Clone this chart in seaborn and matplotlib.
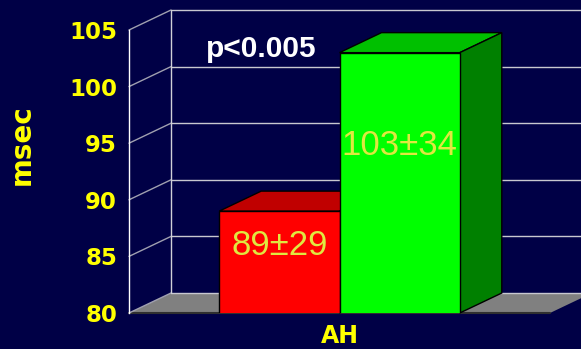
import matplotlib
matplotlib.use("Agg")
import matplotlib.pyplot as plt
from matplotlib.patches import Polygon
import pandas as pd
import seaborn as sns

# data
groups = ["AH", "AH"]
series = ["before", "after"]
values = [89, 103]
bar_labels = ["89\u00b129", "103\u00b134"]
yticks = [80, 85, 90, 95, 100, 105]
p_text = "p<0.005"

navy = "#000046"
front_cols = ["#ff0000", "#00ff00"]
top_cols = ["#c00000", "#00c000"]
side_cols = ["#900000", "#008000"]

df = pd.DataFrame({"group": groups, "series": series, "value": values})

sns.set_style("dark")
plt.rcParams["font.family"] = ["Liberation Sans", "DejaVu Sans"]

fig = plt.figure(figsize=(5.81, 3.49), dpi=100, facecolor=navy)
ax = fig.add_axes([129 / 581, 36 / 349, 421 / 581, 283 / 349])
ax.set_facecolor(navy)

sns.barplot(data=df, x="group", y="value", hue="series", palette=front_cols,
            saturation=1, errorbar=None, edgecolor="black", linewidth=1,
            legend=False, ax=ax)

ax.set_xlim(-0.7, 0.7)
ax.set_ylim(80, 105)
ax.set_yticks(yticks)
ax.grid(False)

# depth offset of the fake 3D box, in data units (42 px right, 20 px up)
dx = 42 * 1.4 / 421
dy = 20 * 25 / 283
x0, x1 = -0.7, 0.7
y0, y1 = 80, 105

# back wall grid lines and left edges
for v in yticks:
    ax.plot([x0 + dx, x1 + dx + 0.2], [v + dy, v + dy], color="#c8c8d0",
            lw=1, clip_on=False, zorder=0.7)
    ax.plot([x0, x0 + dx], [v, v + dy], color="#a0a0b0", lw=1,
            clip_on=False, zorder=0.7)
ax.plot([x0 + dx, x0 + dx], [y0 + dy, y1 + dy], color="#d0d0d8", lw=1,
        clip_on=False, zorder=0.7)

# floor
ax.add_patch(Polygon([(x0, y0), (x1, y0), (x1 + dx, y0 + dy), (x0 + dx, y0 + dy)],
                     closed=True, facecolor="#808080", edgecolor="none",
                     clip_on=False, zorder=0.6))
ax.plot([x0, x1], [y0, y0], color="#303030", lw=1.5, clip_on=False, zorder=0.65)

# 3D faces for the bars
for i, p in enumerate(ax.patches[:len(values)]):
    bx, bw, bh = p.get_x(), p.get_width(), p.get_height()
    z = 2 + 2 * i
    top = Polygon([(bx, bh), (bx + bw, bh), (bx + bw + dx, bh + dy), (bx + dx, bh + dy)],
                  closed=True, facecolor=top_cols[i], edgecolor="black", lw=1,
                  clip_on=False, zorder=z)
    side = Polygon([(bx + bw, y0), (bx + bw + dx, y0 + dy), (bx + bw + dx, bh + dy), (bx + bw, bh)],
                   closed=True, facecolor=side_cols[i], edgecolor="black", lw=1,
                   clip_on=False, zorder=z)
    ax.add_patch(top)
    ax.add_patch(side)
    p.set_zorder(z + 1)

label_y = [85.1, 93.95]
for p, lab, ly in zip(ax.patches[:len(values)], bar_labels, label_y):
    ax.text(p.get_x() + p.get_width() / 2, ly, lab, ha="center", va="baseline",
            color="#e0e840", fontsize=25, zorder=10)

ax.text(-0.259, 102.64, p_text, ha="center", va="baseline", color="white",
        fontsize=21.5, fontweight="bold", zorder=10)

# axes styling
for s in ["top", "right", "bottom"]:
    ax.spines[s].set_visible(False)
ax.spines["left"].set_color("white")
ax.spines["left"].set_linewidth(1)
ax.spines["left"].set_zorder(5)
ax.tick_params(axis="y", colors="white", length=3.6, width=1, pad=5,
               labelcolor="#ffff00", labelsize=16.5)
for t in ax.get_yticklabels():
    t.set_fontfamily("DejaVu Sans")
    t.set_fontweight("bold")
ax.tick_params(axis="x", length=0, pad=8, labelcolor="#ffff00", labelsize=17)
for t in ax.get_xticklabels():
    t.set_fontfamily("DejaVu Sans")
    t.set_fontweight("bold")
ax.set_xlabel("")
ax.set_ylabel("")

ax.text(-107 / 421, 0.594, "msec", transform=ax.transAxes, rotation=90,
        ha="center", va="center", color="#ffff00", fontsize=20,
        fontweight="bold", family="DejaVu Sans")

fig.savefig("out.png", dpi=100, facecolor=navy)
